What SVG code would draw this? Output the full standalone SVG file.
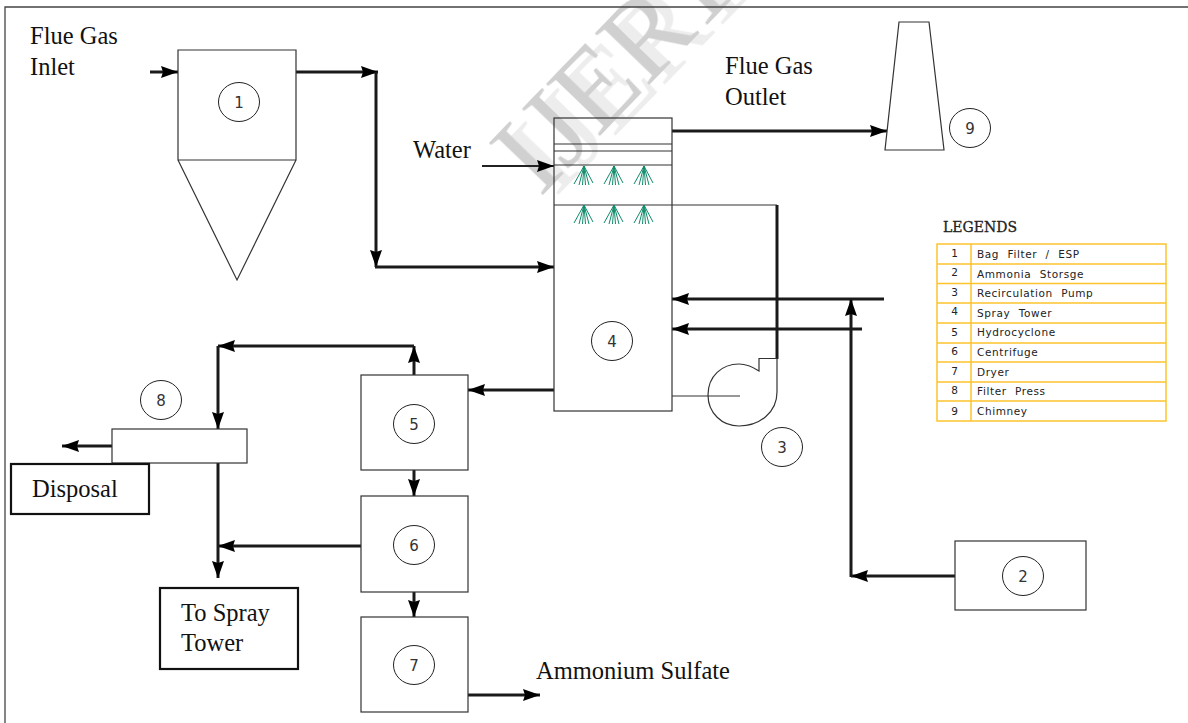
<svg xmlns="http://www.w3.org/2000/svg" width="1188" height="723" viewBox="0 0 1188 723">
<style>
.s{fill:none;stroke:#333;stroke-width:1.2}
.b{fill:#fff;stroke:#333;stroke-width:1.2}
.k{fill:#fff;stroke:#111;stroke-width:2.2}
.p{fill:none;stroke:#1a1a1a;stroke-width:3;stroke-linejoin:miter}
.t{font-family:"Liberation Serif",serif;font-size:24.500px;fill:#111}
.n{font-family:"DejaVu Sans",sans-serif;font-size:15px;fill:#333;text-anchor:middle}
.l{font-family:"DejaVu Sans",sans-serif;font-size:10.500px;fill:#222;letter-spacing:.6px;word-spacing:4.500px}
.c{fill:#fff;stroke:#222;stroke-width:1}
.y{fill:none;stroke:#fdc42c;stroke-width:1.5}
.g{fill:none;stroke:#0f8a6a;stroke-width:1}
</style>
<defs>
<marker id="a" markerUnits="userSpaceOnUse" markerWidth="20" markerHeight="14" refX="17" refY="6" orient="auto"><path d="M0 0L17 6L0 12L2 6Z" fill="#000"/></marker>
<g id="noz" class="g"><path d="M0 0L-10 18M0 0L-5 19M0 0L-1.500 19M0 0L1.500 19M0 0L5 19M0 0L9 17"/></g>
<filter id="ws" x="-10%" y="-30%" width="125%" height="170%"><feDropShadow dx="11" dy="11" stdDeviation="0" flood-color="#ededed"/></filter>
</defs>
<rect width="1188" height="723" fill="#fff"/>
<text transform="translate(540 198) rotate(-46)" font-family="Liberation Serif,serif" font-size="115" fill="#d0d0d0" filter="url(#ws)">IJERT</text>
<path d="M5 723V7H1188" fill="none" stroke="#444" stroke-width="1.300"/>
<g id="connectors">
<path class="p" d="M150 72H178" marker-end="url(#a)"/>
<path class="p" d="M296 72H378" marker-end="url(#a)"/>
<path class="p" d="M376 72V267" marker-end="url(#a)"/>
<path class="p" d="M375 267H554" marker-end="url(#a)"/>
<path d="M482 166H554" fill="none" stroke="#222" stroke-width="2" marker-end="url(#a)"/>
<path class="p" d="M672 131H887" marker-end="url(#a)"/>
<path class="s" d="M672 205H777"/>
<path class="p" d="M777 205V359"/>
<path class="p" d="M884 299H672" marker-end="url(#a)"/>
<path class="p" d="M862 329H672" marker-end="url(#a)"/>
<path class="p" d="M955 576H851" marker-end="url(#a)"/>
<path class="p" d="M851 577V299" marker-end="url(#a)"/>
<path class="p" d="M554 390H468" marker-end="url(#a)"/>
<path class="p" d="M414 375V346" marker-end="url(#a)"/>
<path class="p" d="M414 346H218" marker-end="url(#a)"/>
<path class="p" d="M218 346V429" marker-end="url(#a)"/>
<path class="p" d="M414 470V496" marker-end="url(#a)"/>
<path class="p" d="M414 592V617" marker-end="url(#a)"/>
<path class="p" d="M361 546H218" marker-end="url(#a)"/>
<path class="p" d="M218 463V578" marker-end="url(#a)"/>
<path class="p" d="M112 446H62" marker-end="url(#a)"/>
<path class="p" d="M468 695H540" marker-end="url(#a)"/>
</g>
<g id="node1"><path class="b" d="M178 50H296V160H178ZM178 160L237 280L296 160"/><ellipse class="c" cx="239" cy="102" rx="20.500" ry="19.500"/><text class="n" x="239" y="108">1</text></g>
<g id="node4"><rect class="s" x="554" y="118" width="118" height="293"/><path class="s" d="M554 144H672M554 151H672M554 165H672M554 205H672"/>
<use href="#noz" x="584" y="166"/><use href="#noz" x="614" y="166"/><use href="#noz" x="644" y="166"/>
<use href="#noz" x="584" y="205"/><use href="#noz" x="614" y="205"/><use href="#noz" x="644" y="205"/>
<ellipse class="c" cx="612" cy="341" rx="20.500" ry="19.500"/><text class="n" x="612" y="347">4</text></g>
<g id="node3"><path class="s" d="M672 396H740"/><path class="s" d="M759 371V358.500H777V392C777 412 760 426 739 426C722 426 708 413 708 395C708 376 722 364 739 364C746 364 753 367 759 371Z" stroke-width="1"/><ellipse class="c" cx="782" cy="447" rx="20.500" ry="19.500"/><text class="n" x="782" y="453">3</text></g>
<g id="node9"><path class="s" d="M899 22H929L944 150H885Z"/><ellipse class="c" cx="970" cy="128" rx="20.500" ry="19.500"/><text class="n" x="970" y="134">9</text></g>
<g id="node2"><rect class="b" x="955" y="541" width="131" height="69"/><ellipse class="c" cx="1023" cy="576" rx="20.500" ry="19.500"/><text class="n" x="1023" y="582">2</text></g>
<g id="node5"><rect class="b" x="361" y="375" width="107" height="95"/><ellipse class="c" cx="414" cy="424" rx="20.500" ry="19.500"/><text class="n" x="414" y="430">5</text></g>
<g id="node6"><rect class="b" x="361" y="496" width="107" height="96"/><ellipse class="c" cx="414" cy="545" rx="20.500" ry="19.500"/><text class="n" x="414" y="551">6</text></g>
<g id="node7"><rect class="b" x="361" y="617" width="107" height="95"/><ellipse class="c" cx="414" cy="665" rx="20.500" ry="19.500"/><text class="n" x="414" y="671">7</text></g>
<g id="node8"><rect class="b" x="112" y="429" width="135" height="34"/><ellipse class="c" cx="161" cy="400" rx="20.500" ry="19.500"/><text class="n" x="161" y="406">8</text></g>
<g id="disposal"><rect class="k" x="11" y="464" width="138" height="50"/><text class="t" x="32" y="497">Disposal</text></g>
<g id="spray"><rect class="k" x="160" y="588" width="138" height="81"/><text class="t" x="181" y="621">To Spray</text><text class="t" x="181" y="651">Tower</text></g>
<g id="labels">
<text class="t" x="30" y="44">Flue Gas</text><text class="t" x="30" y="75">Inlet</text>
<text class="t" x="725" y="74">Flue Gas</text><text class="t" x="725" y="105">Outlet</text>
<text class="t" x="413" y="158">Water</text>
<text class="t" x="536" y="679">Ammonium Sulfate</text>
</g>
<g id="legend">
<text x="943" y="232" font-family="'DejaVu Serif',serif" font-size="14" fill="#222" stroke="#222" stroke-width=".3">LEGENDS</text>
<rect class="y" x="937" y="244" width="229" height="177"/>
<path class="y" d="M971 244V421M937 264H1166M937 283.500H1166M937 303H1166M937 323H1166M937 343H1166M937 362H1166M937 382H1166M937 401H1166"/>
<g class="l" text-anchor="middle"><text x="955" y="257">1</text><text x="955" y="276">2</text><text x="955" y="296">3</text><text x="955" y="315">4</text><text x="955" y="336">5</text><text x="955" y="355">6</text><text x="955" y="375">7</text><text x="955" y="394">8</text><text x="955" y="415">9</text></g>
<g class="l"><text x="977" y="258">Bag Filter / ESP</text><text x="977" y="278">Ammonia Storsge</text><text x="977" y="297">Recirculation Pump</text><text x="977" y="317">Spray Tower</text><text x="977" y="336">Hydrocyclone</text><text x="977" y="356">Centrifuge</text><text x="977" y="376">Dryer</text><text x="977" y="395">Filter Press</text><text x="977" y="415">Chimney</text></g>
</g>
</svg>
